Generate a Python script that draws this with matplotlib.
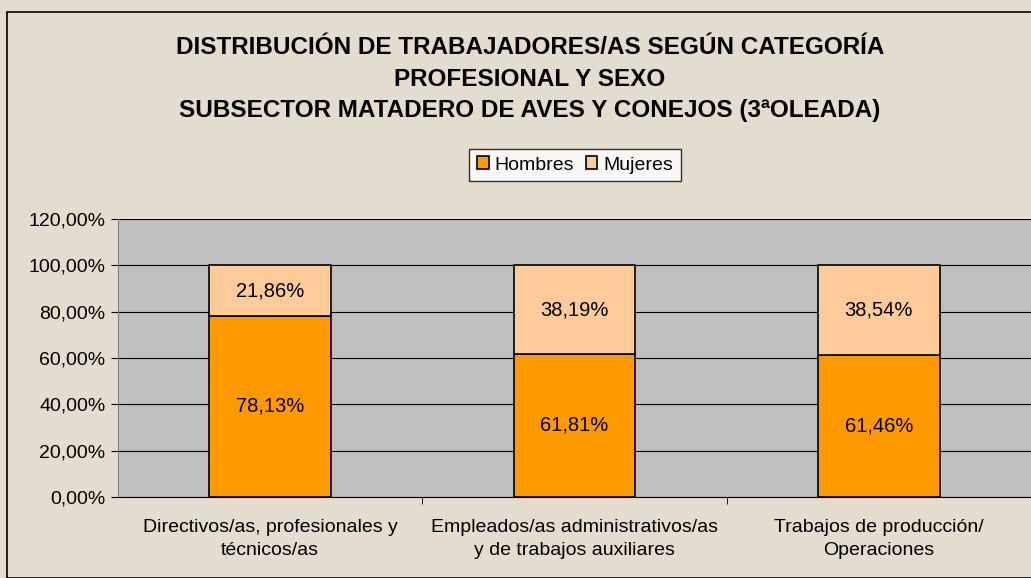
import numpy as np
import matplotlib.pyplot as plt
from matplotlib.patches import Rectangle
from matplotlib.ticker import FixedLocator

plt.rcParams['font.family'] = ['Liberation Sans', 'DejaVu Sans']

categorias = ["Directivos/as, profesionales y\ntécnicos/as",
              "Empleados/as administrativos/as\ny de trabajos auxiliares",
              "Trabajos de producción/\nOperaciones"]
hombres = [78.13, 61.81, 61.46]
mujeres = [21.86, 38.19, 38.54]
etiquetas_h = ["78,13%", "61,81%", "61,46%"]
etiquetas_m = ["21,86%", "38,19%", "38,54%"]
titulo = ("DISTRIBUCIÓN DE TRABAJADORES/AS SEGÚN CATEGORÍA\n"
          "PROFESIONAL Y SEXO\n"
          "SUBSECTOR MATADERO DE AVES Y CONEJOS (3ªOLEADA)")

fondo = '#E3DCCF'
fig = plt.figure(figsize=(10.31, 5.78), dpi=100, facecolor=fondo)
ax = fig.add_axes([118 / 1031, 1 - 497 / 578, 913 / 1031, 278 / 578])
ax.set_facecolor('#C0C0C0')

x = np.arange(len(categorias))
b1 = ax.bar(x, hombres, width=0.4, color='#FF9900', edgecolor='black', linewidth=1.2,
            label='Hombres', zorder=3)
b2 = ax.bar(x, mujeres, width=0.4, bottom=hombres, color='#FFCC99', edgecolor='black',
            linewidth=1.2, label='Mujeres', zorder=3)

for i in range(len(categorias)):
    ax.text(x[i], hombres[i] / 2, etiquetas_h[i], ha='center', va='center', fontsize=14.5, zorder=4)
    ax.text(x[i], hombres[i] + mujeres[i] / 2, etiquetas_m[i], ha='center', va='center',
            fontsize=14.5, zorder=4)

ax.set_xlim(-0.5, 2.5)
ax.set_ylim(0, 120)
ax.set_yticks(np.arange(0, 121, 20))
ax.set_yticklabels(["%d,00%%" % v for v in range(0, 121, 20)], fontsize=14)
ax.yaxis.grid(True, color='black', linewidth=0.8, zorder=1)
ax.set_xticks(x)
ax.set_xticklabels(categorias, fontsize=14, linespacing=1.45)
ax.tick_params(axis='x', length=0, pad=16)
ax.xaxis.set_minor_locator(FixedLocator([0.5, 1.5]))
ax.tick_params(axis='x', which='minor', length=5, direction='out')
ax.tick_params(axis='y', length=5, direction='out', pad=4)
for s in ['top', 'right']:
    ax.spines[s].set_visible(False)
ax.spines['left'].set_color('#808080')
ax.spines['bottom'].set_color('black')

fig.text(530 / 1031, 1 - 79 / 578, titulo, ha='center', va='center', fontsize=17.5,
         fontweight='bold', linespacing=1.5)

leg = fig.legend(handles=[b1, b2], loc='center', bbox_to_anchor=(575 / 1031, 1 - 165 / 578),
                 ncol=2, frameon=True, fancybox=False, edgecolor='black', fontsize=14,
                 handlelength=0.6, handleheight=0.6, handletextpad=0.3, columnspacing=0.6,
                 borderpad=0.4)
leg.get_frame().set_linewidth(1)

fig.patches.append(Rectangle((7 / 1031, 0), 1.1, 1 - 12 / 578, transform=fig.transFigure,
                             fill=False, edgecolor='black', linewidth=1.2))

fig.savefig('out.png', dpi=100, facecolor=fondo)
